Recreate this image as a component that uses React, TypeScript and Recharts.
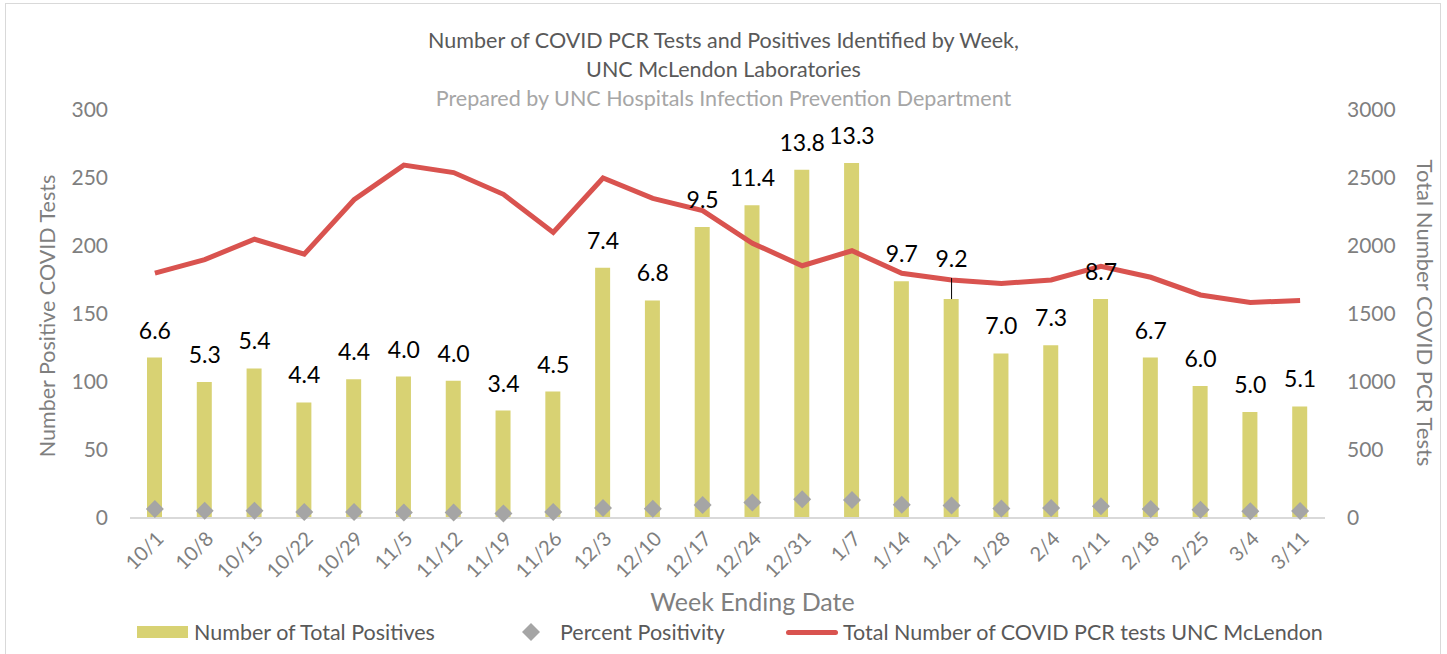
import { ComposedChart, Bar, Line, Scatter, XAxis, YAxis, LabelList, Legend } from 'recharts';

const weeks = ['10/1', '10/8', '10/15', '10/22', '10/29', '11/5', '11/12', '11/19', '11/26', '12/3', '12/10', '12/17', '12/24', '12/31', '1/7', '1/14', '1/21', '1/28', '2/4', '2/11', '2/18', '2/25', '3/4', '3/11'];
const positives = [118, 100, 110, 85, 102, 104, 101, 79, 93, 184, 160, 214, 230, 256, 261, 174, 161, 121, 127, 161, 118, 97, 78, 82];
const percentPositivity = [6.6, 5.3, 5.4, 4.4, 4.4, 4.0, 4.0, 3.4, 4.5, 7.4, 6.8, 9.5, 11.4, 13.8, 13.3, 9.7, 9.2, 7.0, 7.3, 8.7, 6.7, 6.0, 5.0, 5.1];
const totalTests = [1800, 1900, 2050, 1940, 2340, 2595, 2540, 2380, 2100, 2500, 2350, 2260, 2020, 1855, 1965, 1800, 1750, 1725, 1750, 1850, 1770, 1640, 1585, 1600];
const leftTicks = [0, 50, 100, 150, 200, 250, 300];
const rightTicks = [0, 500, 1000, 1500, 2000, 2500, 3000];

const data = weeks.map((week, i) => ({
  week,
  positives: positives[i],
  pct: percentPositivity[i],
  tests: totalTests[i],
}));

const FONT = 'Lato, "Open Sans", sans-serif';
const BAR_COLOR = '#D8D273';
const LINE_COLOR = '#D9534F';
const DIAMOND_COLOR = '#A5A5A5';

// labels with a leader line (moved up by hand in the original)
const LEADER = [16];

function Diamond(props: any) {
  const { cx, cy } = props;
  if (cx == null || cy == null) return null;
  const r = 9;
  return <polygon points={`${cx},${cy - r} ${cx + r},${cy} ${cx},${cy + r} ${cx - r},${cy}`} fill={DIAMOND_COLOR} />;
}

function PctLabel(props: any) {
  const { x, y, index } = props;
  const txt = percentPositivity[index].toFixed(1);
  if (LEADER.includes(index)) {
    return (
      <g>
        <line x1={x} x2={x} y1={y} y2={y - 21} stroke="#000" strokeWidth={1} />
        <text x={x} y={y - 32} textAnchor="middle" fontSize={23} fontFamily={FONT} fill="#000">{txt}</text>
      </g>
    );
  }
  return <text x={x} y={y - 19} textAnchor="middle" fontSize={23} fontFamily={FONT} fill="#000">{txt}</text>;
}

function LegendContent() {
  const item = { display: 'flex', alignItems: 'center', color: '#595959', fontSize: 21.5, fontFamily: FONT, height: 26 };
  return (
    <div style={{ position: 'relative', height: 26 }}>
      <div style={{ ...item, position: 'absolute', left: 137 }}>
        <span style={{ width: 51, height: 12, background: BAR_COLOR, marginRight: 6, display: 'inline-block' }} />
        Number of Total Positives
      </div>
      <div style={{ ...item, position: 'absolute', left: 521 }}>
        <svg width={20} height={20} style={{ marginRight: 19 }}>
          <polygon points="10,1 19,10 10,19 1,10" fill={DIAMOND_COLOR} />
        </svg>
        Percent Positivity
      </div>
      <div style={{ ...item, position: 'absolute', left: 786 }}>
        <span style={{ width: 52, height: 5, background: LINE_COLOR, borderRadius: 3, marginRight: 5, display: 'inline-block' }} />
        Total Number of COVID PCR tests UNC McLendon
      </div>
    </div>
  );
}

export default function App() {
  const center = { position: 'absolute' as const, left: 0, width: 1447, textAlign: 'center' as const, fontFamily: FONT, whiteSpace: 'nowrap' as const, lineHeight: '26px' };
  return (
    <div style={{ position: 'absolute', left: 0, top: 0, width: 1447, height: 654, background: '#fff', overflow: 'hidden' }}>
      <div style={{ position: 'absolute', left: 5, top: 3, width: 1436, height: 700, border: '1px solid #D9D9D9', boxSizing: 'border-box' }} />
      <div style={{ ...center, top: 27, fontSize: 21.5, color: '#595959' }}>Number of COVID PCR Tests and Positives Identified by Week,</div>
      <div style={{ ...center, top: 56, fontSize: 21.5, color: '#595959' }}>UNC McLendon Laboratories</div>
      <div style={{ ...center, top: 85, fontSize: 21.5, color: '#A6A6A6' }}>Prepared by UNC Hospitals Infection Prevention Department</div>

      <ComposedChart width={1447} height={654} data={data} margin={{ top: 110, right: 0, left: 0, bottom: 40 }} style={{ position: 'absolute', left: 0, top: 0 }}>
        <XAxis
          dataKey="week"
          interval={0}
          height={70}
          tickLine={false}
          axisLine={{ stroke: '#D9D9D9', strokeWidth: 2 }}
          tick={{ fontSize: 20, fill: '#7F7F7F', fontFamily: FONT, angle: -45, textAnchor: 'end' }}
          tickMargin={6}
        />
        <YAxis
          yAxisId="left"
          width={130}
          domain={[0, 300]}
          ticks={leftTicks}
          axisLine={false}
          tickLine={false}
          tickMargin={16}
          tick={{ fontSize: 21, fill: '#7F7F7F', fontFamily: FONT }}
        />
        <YAxis
          yAxisId="right"
          orientation="right"
          width={122}
          domain={[0, 3000]}
          ticks={rightTicks}
          axisLine={false}
          tickLine={false}
          tickMargin={16}
          tick={{ fontSize: 21, fill: '#7F7F7F', fontFamily: FONT, textAnchor: 'start' }}
        />
        <Bar yAxisId="left" dataKey="positives" fill={BAR_COLOR} barSize={15} isAnimationActive={false} />
        <Line yAxisId="right" dataKey="tests" type="linear" stroke={LINE_COLOR} strokeWidth={5} dot={false} isAnimationActive={false} />
        <Scatter yAxisId="left" dataKey="pct" shape={Diamond} isAnimationActive={false} />
        {/* invisible series at bar tops so the % labels sit above the red line */}
        <Line yAxisId="left" dataKey="positives" stroke="none" dot={false} activeDot={false} legendType="none" isAnimationActive={false}>
          <LabelList dataKey="pct" content={PctLabel} />
        </Line>
        <Legend content={LegendContent} height={26} wrapperStyle={{ top: 619, left: 0, width: 1447 }} />
      </ComposedChart>

      <div style={{ ...center, left: 29, top: 586, fontSize: 25, color: '#7F7F7F', lineHeight: '30px' }}>Week Ending Date</div>
      <div style={{ position: 'absolute', left: 47, top: 316, transform: 'translate(-50%, -50%) rotate(-90deg)', fontSize: 21.5, color: '#7F7F7F', fontFamily: FONT, whiteSpace: 'nowrap' }}>
        Number Positive COVID Tests
      </div>
      <div style={{ position: 'absolute', left: 1425, top: 313, transform: 'translate(-50%, -50%) rotate(90deg)', fontSize: 22, color: '#7F7F7F', fontFamily: FONT, whiteSpace: 'nowrap' }}>
        Total Number COVID PCR Tests
      </div>
    </div>
  );
}
